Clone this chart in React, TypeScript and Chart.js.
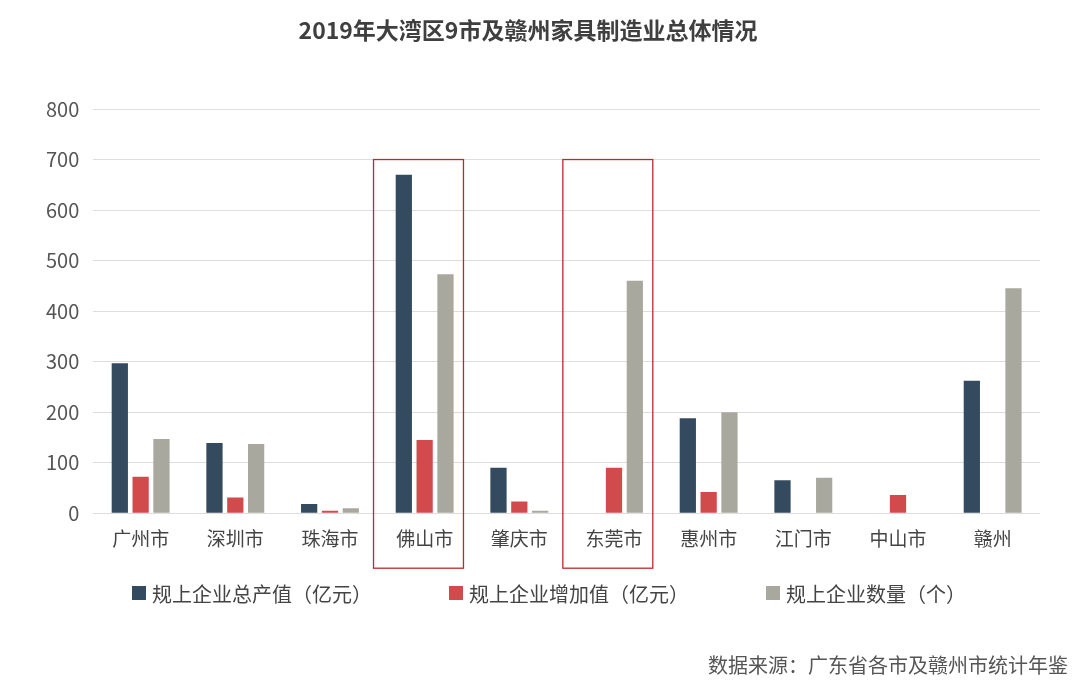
import React, { useEffect, useRef } from "react";
import { Chart, registerables } from "chart.js";

Chart.register(...registerables);

const categories = ["广州市", "深圳市", "珠海市", "佛山市", "肇庆市", "东莞市", "惠州市", "江门市", "中山市", "赣州"];
const totalOutput = [297, 139, 18, 670, 90, 0, 188, 65, 0, 262];
const addedValue = [72, 31, 5, 145, 23, 90, 42, 0, 36, 0];
const companyCount = [147, 137, 10, 473, 5, 460, 200, 70, 0, 445];
const seriesLabels = ["规上企业总产值（亿元）", "规上企业增加值（亿元）", "规上企业数量（个）"];
const seriesColors = ["#344a5f", "#d14b4d", "#a8a89e"];
const highlighted = ["佛山市", "东莞市"];
const highlightTop = 700;
const yMax = 800;
const yStep = 100;
const titleText = "2019年大湾区9市及赣州家具制造业总体情况";
const sourceText = "数据来源：广东省各市及赣州市统计年鉴";

const FONT = "'Noto Sans CJK SC', 'Noto Sans', sans-serif";

const overlayPlugin = {
  id: "overlay",
  afterDraw(chart: any) {
    const { ctx, scales } = chart;
    const x = scales.x;
    const y = scales.y;
    const step = x.getPixelForValue(1) - x.getPixelForValue(0);
    // highlight boxes
    ctx.save();
    ctx.strokeStyle = "#c1272d";
    ctx.lineWidth = 1.3;
    highlighted.forEach((name) => {
      const i = categories.indexOf(name);
      const cx = x.getPixelForValue(i);
      const left = cx - step * 0.54;
      const right = cx + step * 0.41;
      const top = y.getPixelForValue(highlightTop);
      const bottom = y.getPixelForValue(0) + 55;
      ctx.strokeRect(left, top, right - left, bottom - top);
    });
    ctx.restore();

    // title
    ctx.save();
    ctx.fillStyle = "#3f3f3f";
    ctx.font = `bold 23px ${FONT}`;
    ctx.textAlign = "center";
    ctx.textBaseline = "middle";
    ctx.fillText(titleText, 528, 30);
    ctx.restore();

    // legend
    ctx.save();
    ctx.font = `20px ${FONT}`;
    ctx.textBaseline = "middle";
    ctx.textAlign = "left";
    const box = 14;
    const gapText = 6;
    const gapItem = 77;
    const widths = seriesLabels.map((l) => box + gapText + ctx.measureText(l).width);
    const total = widths.reduce((a, b) => a + b, 0) + gapItem * (widths.length - 1);
    let lx = 549 - total / 2;
    const ly = 593;
    seriesLabels.forEach((l, i) => {
      ctx.fillStyle = seriesColors[i];
      ctx.fillRect(lx, ly - box / 2, box, box);
      ctx.fillStyle = "#444";
      ctx.fillText(l, lx + box + gapText, ly + 1);
      lx += widths[i] + gapItem;
    });
    ctx.restore();

    // source
    ctx.save();
    ctx.font = `20px ${FONT}`;
    ctx.fillStyle = "#555";
    ctx.textAlign = "right";
    ctx.textBaseline = "middle";
    ctx.fillText(sourceText, 1068, 665);
    ctx.restore();
  },
};

export default function App() {
  const canvasRef = useRef<HTMLCanvasElement | null>(null);

  useEffect(() => {
    if (!canvasRef.current) return;
    const chart = new Chart(canvasRef.current, {
      type: "bar",
      data: {
        labels: categories,
        datasets: [
          { label: seriesLabels[0], data: totalOutput, backgroundColor: seriesColors[0] },
          { label: seriesLabels[1], data: addedValue, backgroundColor: seriesColors[1] },
          { label: seriesLabels[2], data: companyCount, backgroundColor: seriesColors[2] },
        ],
      },
      options: {
        responsive: true,
        maintainAspectRatio: false,
        animation: false,
        categoryPercentage: 0.66,
        barPercentage: 0.78,
        layout: { padding: { top: 109, bottom: 122, left: 32, right: 40 } },
        plugins: {
          legend: { display: false },
          title: { display: false },
          tooltip: { enabled: false },
        },
        scales: {
          x: {
            grid: { display: false, drawTicks: false },
            border: { display: false },
            ticks: { color: "#444", font: { size: 19, family: FONT }, padding: 14, maxRotation: 0 },
          },
          y: {
            min: 0,
            max: yMax,
            grid: { color: "#dddddd", lineWidth: 1, drawTicks: false },
            border: { display: false },
            ticks: { stepSize: yStep, color: "#555", font: { size: 20, family: FONT }, padding: 14 },
          },
        },
      },
      plugins: [overlayPlugin],
    });
    return () => chart.destroy();
  }, []);

  return (
    <div style={{ position: "fixed", left: 0, top: 0, width: 1080, height: 686, background: "#fff" }}>
      <canvas ref={canvasRef} />
    </div>
  );
}
